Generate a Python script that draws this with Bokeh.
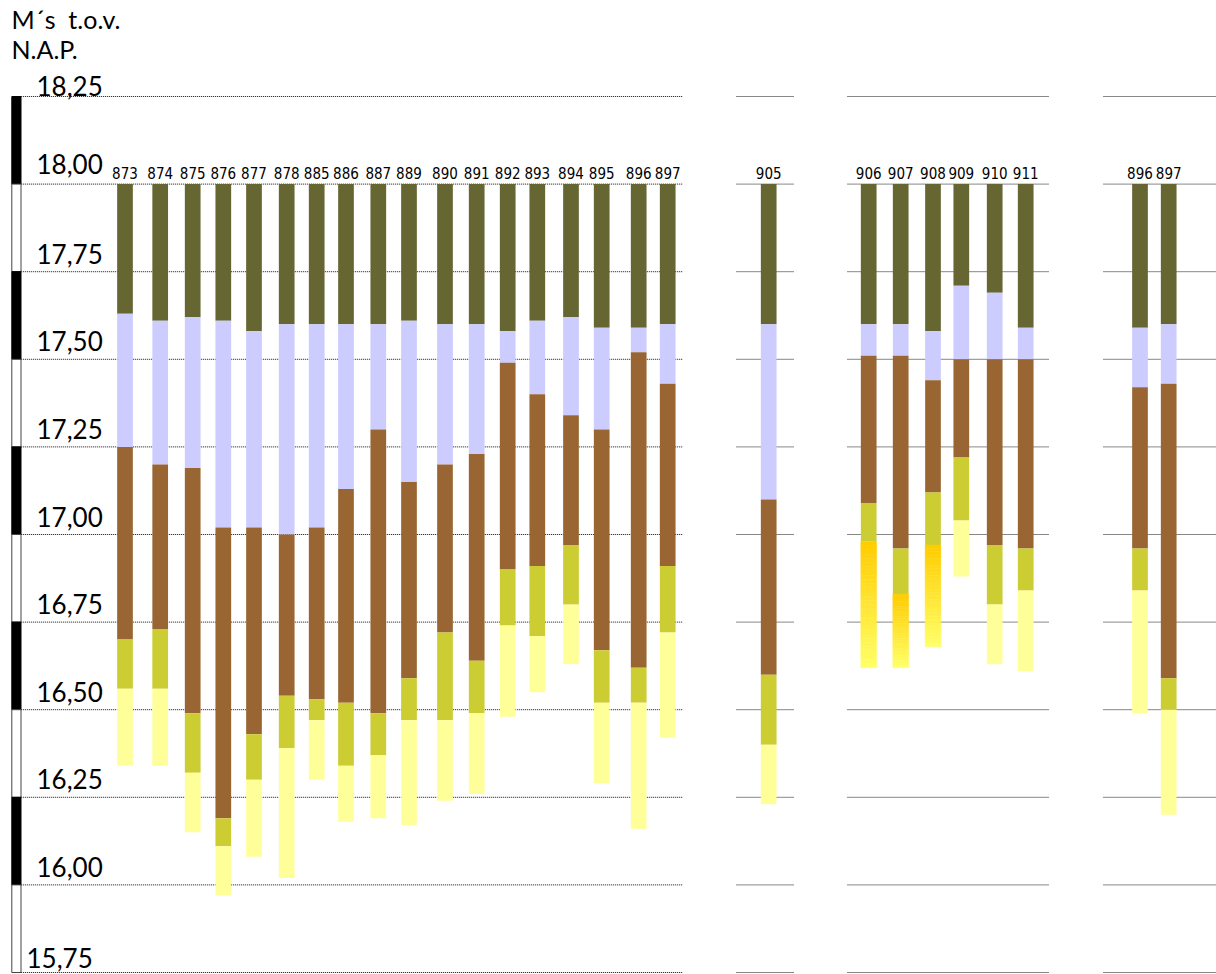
import numpy as np
from bokeh.plotting import figure
from bokeh.models import Range1d, ColumnDataSource
from bokeh.core.properties import value
from bokeh.embed import file_html
from bokeh.resources import INLINE

# ---------------- data (levels in m t.o.v. N.A.P.) ----------------
boreholes = ["873", "874", "875", "876", "877", "878", "885", "886", "887",
             "889", "890", "891", "892", "893", "894", "895", "896", "897",
             "905", "906", "907", "908", "909", "910", "911", "896", "897"]
surface = [18.00] * len(boreholes)
olive_bottom = [17.63, 17.61, 17.62, 17.61, 17.58, 17.60, 17.60, 17.60, 17.60,
                17.61, 17.60, 17.60, 17.58, 17.61, 17.62, 17.59, 17.59, 17.60,
                17.60, 17.60, 17.60, 17.58, 17.71, 17.69, 17.59, 17.59, 17.60]
lavender_bottom = [17.25, 17.20, 17.19, 17.02, 17.02, 17.00, 17.02, 17.13, 17.30,
                   17.15, 17.20, 17.23, 17.49, 17.40, 17.34, 17.30, 17.52, 17.43,
                   17.10, 17.51, 17.51, 17.44, 17.50, 17.50, 17.50, 17.42, 17.43]
brown_bottom = [16.70, 16.73, 16.49, 16.19, 16.43, 16.54, 16.53, 16.52, 16.49,
                16.59, 16.72, 16.64, 16.90, 16.91, 16.97, 16.67, 16.62, 16.91,
                16.60, 17.09, 16.96, 17.12, 17.22, 16.97, 16.96, 16.96, 16.59]
ocher_bottom = [16.56, 16.56, 16.32, 16.11, 16.30, 16.39, 16.47, 16.34, 16.37,
                16.47, 16.47, 16.49, 16.74, 16.71, 16.80, 16.52, 16.52, 16.72,
                16.40, 16.98, 16.83, 16.97, 17.04, 16.80, 16.84, 16.84, 16.50]
base_level = [16.34, 16.34, 16.15, 15.97, 16.08, 16.02, 16.30, 16.18, 16.19,
              16.17, 16.24, 16.26, 16.48, 16.55, 16.63, 16.29, 16.16, 16.42,
              16.23, 16.62, 16.62, 16.68, 16.88, 16.63, 16.61, 16.49, 16.20]
deep_kind = ["pale"] * 19 + ["orange", "orange", "orange"] + ["pale"] * 5

tick_values = [18.25, 18.00, 17.75, 17.50, 17.25, 17.00, 16.75, 16.50, 16.25, 16.00, 15.75]
tick_labels = ["18,25", "18,00", "17,75", "17,50", "17,25", "17,00", "16,75",
               "16,50", "16,25", "16,00", "15,75"]

# ---------------- layout & style ----------------
W, H = 1216, 974
PPU = 350.4                      # pixels per metre
Y_TOP = 18.25 + 96 / PPU
Y_BOT = Y_TOP - H / PPU
TXT_SHIFT = -9                   # renderer places alphabetic baseline ~9px low


def yv(page_y):
    return Y_TOP - page_y / PPU


bar_x = [124.5, 159.7, 192.2, 222.8, 253.5, 286.2, 316.2, 345.5, 377.8,
         408.5, 444.5, 476.2, 507.2, 536.8, 570.5, 601.2, 638.2, 667.2,
         768.2, 868.2, 900.2, 932.5, 960.8, 994.2, 1025.2, 1139.5, 1168.2]
bar_w = 15.7
grid_spans = [(20.7, 682), (736, 794), (847, 1049), (1103, 1216)]
label_x = [36] * 10 + [26]
label_dy = [d + TXT_SHIFT for d in [-2, -11, -9, -9, -9, -9, -9, -9, -9, -9, -6]]

C_OLIVE, C_LAV, C_BROWN, C_OCHER, C_PALE = "#666633", "#CCCCFF", "#996633", "#CCCC33", "#FFFF99"
GRAD_TOP, GRAD_BOT = (0xFF, 0xCC, 0x00), (0xFF, 0xFF, 0x66)

p = figure(width=W, height=H, x_range=Range1d(0, W),
           y_range=Range1d(Y_BOT, Y_TOP), output_backend="svg",
           toolbar_location=None, min_border=0, outline_line_color=None,
           background_fill_color="white", border_fill_color="white")
p.axis.visible = False
p.grid.visible = False

# dotted level lines per group
x0s, x1s, ys = [], [], []
for lv in tick_values:
    for a, b in grid_spans:
        x0s.append(a); x1s.append(b); ys.append(lv)
p.segment(x0=x0s, y0=ys, x1=x1s, y1=ys, line_color="#111111",
          line_width=1, line_dash="1 1")

# scale bar
seg_top = tick_values[:-1]
seg_bot = tick_values[1:]
seg_col = ["black" if i % 2 == 0 else "white" for i in range(len(seg_top))]
seg_line = ["black" if i % 2 == 0 else "#444444" for i in range(len(seg_top))]
p.vbar(x=[15.9] * len(seg_top), width=9.2, top=seg_top, bottom=seg_bot,
       fill_color=seg_col, line_color=seg_line, line_width=1)

# bar layers
layers = [(surface, olive_bottom, C_OLIVE), (olive_bottom, lavender_bottom, C_LAV),
          (lavender_bottom, brown_bottom, C_BROWN), (brown_bottom, ocher_bottom, C_OCHER)]
for tops, bots, col in layers:
    p.vbar(x=bar_x, width=bar_w, top=tops, bottom=bots, fill_color=col, line_color=None)

# deepest layer: pale sand or orange-graded sand
pale_idx = [i for i, k in enumerate(deep_kind) if k == "pale"]
p.vbar(x=[bar_x[i] for i in pale_idx], width=bar_w,
       top=[ocher_bottom[i] for i in pale_idx], bottom=[base_level[i] for i in pale_idx],
       fill_color=C_PALE, line_color=None)
NSTRIP = 30
gx, gt, gb, gc = [], [], [], []
for i, k in enumerate(deep_kind):
    if k != "orange":
        continue
    edges = np.linspace(ocher_bottom[i], base_level[i], NSTRIP + 1)
    for s in range(NSTRIP):
        f = s / (NSTRIP - 1)
        r, g, b = [int(round(GRAD_TOP[c] + f * (GRAD_BOT[c] - GRAD_TOP[c]))) for c in range(3)]
        gx.append(bar_x[i]); gt.append(edges[s]); gb.append(edges[s + 1])
        gc.append("#%02X%02X%02X" % (r, g, b))
p.vbar(x=gx, width=bar_w, top=gt, bottom=gb, fill_color=gc, line_color=gc, line_width=0.5)

# borehole numbers
p.text(x=bar_x, y=surface, text=boreholes, text_align="center", text_baseline="alphabetic",
       y_offset=-2 + TXT_SHIFT, text_font=value("DejaVu Sans Condensed"), text_font_size="15px",
       text_color="black")

# level labels
src = ColumnDataSource(dict(x=label_x, y=tick_values, t=tick_labels, dy=label_dy))
p.text(x="x", y="y", text="t", y_offset="dy", source=src, text_align="left",
       text_baseline="alphabetic", text_font=value("Lato"), text_font_size="26px",
       text_color="black")

# unit caption
p.text(x=[11, 11], y=[yv(27), yv(57)], text=["M´s\u00a0 t.o.v.", "N.A.P."],
       y_offset=TXT_SHIFT, text_align="left", text_baseline="alphabetic",
       text_font=value("Lato"), text_font_size="25px", text_color="black")

open("out.html", "w").write(file_html(p, INLINE))
